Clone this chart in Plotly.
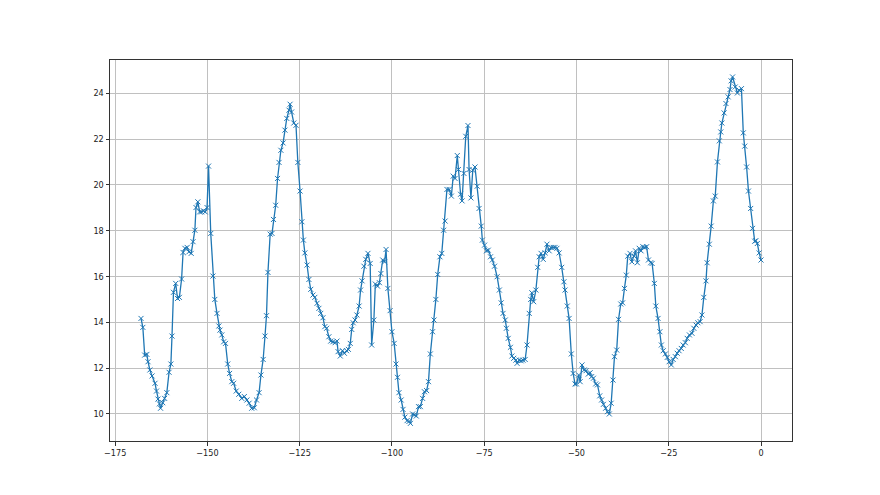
import plotly.graph_objects as go

hours = [
    -168.0,-167.5,-167.0,-166.4,-166.1,-165.6,-165.0,-164.2,-163.8,-163.4,-163.0,-162.7,-162.1,-161.6,-161.0,-160.4,-159.9,-159.6,-159.2,-158.6,
    -158.1,-157.6,-157.0,-156.6,-156.1,-155.5,-155.0,-154.4,-153.9,-153.4,-153.1,-152.6,-152.1,-151.6,-151.1,-150.6,-150.1,-149.7,-149.1,-148.5,
    -148.0,-147.4,-146.9,-146.6,-146.1,-145.6,-145.1,-144.5,-144.0,-143.4,-142.9,-142.2,-141.5,-140.7,-140.0,-139.3,-138.7,-138.0,-137.3,-136.7,
    -136.0,-135.5,-134.9,-134.4,-134.0,-133.6,-133.0,-132.5,-132.1,-131.5,-131.0,-130.6,-130.1,-129.5,-129.0,-128.5,-127.9,-127.6,-127.2,-126.6,
    -126.0,-125.5,-124.9,-124.4,-124.0,-123.6,-123.0,-122.5,-122.0,-121.4,-120.9,-120.3,-119.8,-119.3,-118.7,-118.2,-117.7,-117.1,-116.6,-116.0,
    -115.4,-114.9,-114.6,-114.0,-113.4,-112.9,-112.3,-111.8,-111.3,-110.9,-110.5,-110.0,-109.5,-108.9,-108.5,-108.1,-107.6,-107.1,-106.5,-105.9,
    -105.5,-104.9,-104.5,-103.9,-103.4,-103.0,-102.5,-102.0,-101.6,-101.1,-100.5,-100.0,-99.4,-98.9,-98.5,-98.1,-97.5,-97.0,-96.5,-95.9,
    -95.4,-95.0,-94.4,-93.9,-93.4,-92.8,-92.3,-91.7,-91.2,-90.6,-90.1,-89.6,-89.0,-88.6,-88.1,-87.6,-87.0,-86.5,-86.0,-85.6,
    -85.1,-84.5,-83.9,-83.4,-82.9,-82.3,-82.0,-81.4,-81.0,-80.5,-80.0,-79.4,-79.1,-78.6,-78.1,-77.5,-76.9,-76.4,-75.8,-75.5,
    -74.9,-74.4,-73.9,-73.3,-72.8,-72.2,-71.5,-70.9,-70.4,-69.9,-69.3,-69.0,-68.5,-67.9,-67.5,-67.0,-66.4,-66.1,-65.5,-65.0,
    -64.5,-63.9,-63.4,-62.8,-62.4,-62.1,-61.6,-61.0,-60.5,-60.1,-59.6,-59.0,-58.5,-58.0,-57.4,-56.9,-56.3,-55.8,-55.3,-54.7,
    -54.0,-53.4,-53.1,-52.5,-52.0,-51.4,-50.9,-50.4,-50.0,-49.4,-49.0,-48.5,-47.9,-47.4,-46.8,-46.3,-45.9,-45.4,-44.8,-44.3,
    -43.7,-43.2,-42.7,-42.1,-41.6,-41.1,-40.6,-40.1,-39.7,-39.1,-38.6,-38.0,-37.5,-37.0,-36.5,-36.1,-35.5,-35.0,-34.4,-34.0,
    -33.5,-33.0,-32.5,-32.0,-31.5,-31.0,-30.5,-29.9,-29.5,-28.9,-28.5,-27.9,-27.4,-27.0,-26.5,-25.9,-25.4,-24.9,-24.3,-23.8,
    -23.2,-22.7,-22.2,-21.6,-21.1,-20.5,-20.0,-19.4,-18.7,-18.2,-17.6,-17.1,-16.5,-16.0,-15.5,-14.9,-14.6,-14.0,-13.5,-12.9,
    -12.4,-11.8,-11.3,-10.9,-10.6,-10.0,-9.5,-8.9,-8.4,-8.1,-7.7,-7.0,-6.4,-5.9,-5.3,-4.8,-4.4,-3.9,-3.4,-2.8,
    -2.3,-1.7,-1.4,-1.0,-0.5,0.0,
]

temperature = [
    14.17,13.78,12.57,12.60,12.28,11.92,11.66,11.34,11.00,10.65,10.44,10.25,10.49,10.68,10.93,11.82,12.18,13.40,15.31,15.70,
    15.04,15.09,15.89,17.05,17.23,17.27,17.08,17.01,17.52,18.02,19.01,19.26,18.82,18.82,18.87,18.82,19.01,20.82,17.88,16.02,
    15.00,14.39,13.84,13.66,13.45,13.15,13.08,12.18,11.77,11.41,11.34,11.00,10.86,10.68,10.76,10.61,10.47,10.25,10.27,10.61,
    10.93,11.70,12.38,13.40,14.29,16.18,17.85,17.88,18.49,19.11,20.28,20.98,21.51,21.83,22.39,22.90,23.26,23.52,23.18,22.70,
    22.60,20.98,19.73,18.39,17.59,17.03,16.50,15.87,15.44,15.19,15.09,14.83,14.61,14.39,14.20,13.81,13.74,13.37,13.18,13.15,
    13.11,13.18,12.72,12.53,12.76,12.65,12.76,12.82,13.08,13.69,13.98,14.10,14.32,14.71,15.41,15.81,16.45,16.75,17.01,16.57,
    13.01,14.10,15.67,15.58,15.73,16.13,16.72,16.64,17.18,15.48,14.51,13.59,13.08,12.18,11.60,10.93,10.61,10.20,9.86,9.71,
    9.67,9.59,10.00,9.96,9.91,10.32,10.32,10.68,10.97,11.02,11.41,12.62,13.59,14.10,15.00,16.09,16.86,17.01,18.02,18.42,
    19.80,19.80,19.51,20.38,20.28,21.28,20.67,19.59,19.30,20.50,22.12,22.59,20.67,19.43,20.64,20.78,19.94,18.97,18.20,17.59,
    17.37,17.12,17.15,16.86,16.72,16.45,15.99,15.41,14.85,14.39,14.10,13.74,13.30,12.91,12.53,12.43,12.35,12.21,12.35,12.32,
    12.35,12.38,13.01,14.39,15.00,15.29,14.90,15.41,16.40,16.86,17.01,16.75,17.03,17.41,17.12,17.27,17.27,17.27,17.23,17.03,
    16.40,15.77,15.41,14.71,14.17,12.62,11.77,11.31,11.31,11.70,11.41,12.14,11.92,11.89,11.74,11.80,11.63,11.56,11.31,11.27,
    10.79,10.61,10.42,10.25,10.10,10.00,10.47,11.48,12.50,12.79,14.13,14.80,14.85,15.48,16.06,16.89,17.01,16.64,16.89,17.12,
    16.60,17.23,17.12,17.30,17.27,17.30,16.72,16.60,16.57,15.70,14.71,14.17,13.59,13.01,12.76,12.62,12.47,12.28,12.14,12.38,
    12.50,12.65,12.76,12.86,13.01,13.11,13.30,13.45,13.52,13.74,13.88,13.98,14.03,14.32,15.09,15.81,16.60,17.41,18.20,19.30,
    19.51,21.00,21.92,22.31,22.70,23.14,23.55,23.84,24.16,24.54,24.71,24.27,24.01,24.13,24.20,22.27,21.69,20.78,19.73,18.97,
    18.10,17.54,17.56,17.44,17.03,16.72,
]

x_ticks = [-175, -150, -125, -100, -75, -50, -25, 0]
x_tick_text = ["\u2212175", "\u2212150", "\u2212125", "\u2212100", "\u221275", "\u221250", "\u221225", "0"]
y_ticks = [10, 12, 14, 16, 18, 20, 22, 24]

fig = go.Figure()
fig.add_trace(go.Scatter(
    x=hours, y=temperature, mode="lines+markers",
    line=dict(color="#1f77b4", width=1.3),
    marker=dict(symbol="x-thin", size=5, line=dict(color="#1f77b4", width=1)),
    showlegend=False,
))

axis_common = dict(
    showgrid=True, gridcolor="#c0c0c0", gridwidth=0.8,
    showline=True, linecolor="#333333", linewidth=1, mirror=True,
    ticks="outside", ticklen=3.5, tickcolor="#333333", tickwidth=0.8,
    zeroline=False,
    tickfont=dict(family="DejaVu Sans Condensed, Liberation Sans Narrow, DejaVu Sans", size=9, color="#222222"),
)

fig.update_layout(
    width=880, height=495,
    margin=dict(l=102, r=96, t=52, b=62),
    paper_bgcolor="white", plot_bgcolor="white",
    xaxis=dict(range=[-176.4, 8.4], tickvals=x_ticks, ticktext=x_tick_text, **axis_common),
    yaxis=dict(range=[8.82, 25.45], tickvals=y_ticks, **axis_common),
)

fig.write_html("out.html")
